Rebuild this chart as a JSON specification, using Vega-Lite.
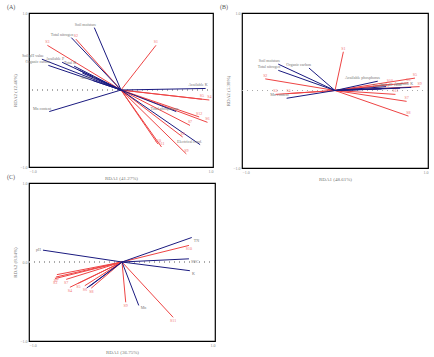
{
  "$schema": "https://vega.github.io/schema/vega-lite/v6.json",
  "padding": {"left": 6, "top": 3, "right": 0, "bottom": 0},
  "config": {
    "font": "Liberation Serif",
    "view": {"stroke": "black", "strokeWidth": 1.2},
    "axis": {"grid": false, "domain": false, "ticks": false, "labelFontSize": 4, "titleFontSize": 5, "labelColor": "#888", "titleColor": "#777", "labelPadding": 2, "titlePadding": 2, "titleFontWeight": "normal"},
    "title": {"fontSize": 6, "fontWeight": "normal", "anchor": "start", "frame": "group", "color": "#555", "offset": 1},
    "text": {"fontSize": 4}
  },
  "datasets": {
    "A": [
      {"x": -0.29, "y": 0.81, "t": "env", "label": "Soil moisture"},
      {"x": -0.54, "y": 0.68, "t": "env", "label": "Total nitrogen"},
      {"x": -0.86, "y": 0.40, "t": "env", "label": "Soil pH value"},
      {"x": -0.79, "y": 0.32, "t": "env", "label": "Organic carbon"},
      {"x": -0.64, "y": 0.36, "t": "env", "label": "Available P"},
      {"x": -0.51, "y": 0.31, "t": "env", "label": "Total K"},
      {"x": -0.46, "y": 0.26, "t": "env", "label": ""},
      {"x": -0.42, "y": 0.22, "t": "env", "label": ""},
      {"x": -0.30, "y": 0.12, "t": "env", "label": "Nitrate N"},
      {"x": -0.78, "y": -0.28, "t": "env", "label": "Mn content"},
      {"x": 0.92, "y": 0.02, "t": "env", "label": "Available K"},
      {"x": 0.60, "y": -0.28, "t": "env", "label": "Total phosphorus"},
      {"x": 0.86, "y": -0.71, "t": "env", "label": "Electrical cond."},
      {"x": 0.38, "y": 0.58, "t": "sp", "label": "S1"},
      {"x": -0.49, "y": 0.66, "t": "sp", "label": "S2"},
      {"x": -0.80, "y": 0.58, "t": "sp", "label": "S3"},
      {"x": 0.96, "y": -0.13, "t": "sp", "label": "S4"},
      {"x": 0.88, "y": -0.12, "t": "sp", "label": "S5"},
      {"x": 0.94, "y": -0.42, "t": "sp", "label": "S6"},
      {"x": 0.75, "y": -0.46, "t": "sp", "label": "S7"},
      {"x": 0.67, "y": -0.61, "t": "sp", "label": "S8"},
      {"x": 0.71, "y": -0.83, "t": "sp", "label": "S9"},
      {"x": 0.40, "y": -0.70, "t": "sp", "label": "S10"},
      {"x": 0.44, "y": -0.74, "t": "sp", "label": "S11"},
      {"x": 0.85, "y": -0.35, "t": "sp", "label": "S12"}
    ],
    "B": [
      {"x": -0.61, "y": 0.34, "t": "env", "label": "Soil moisture"},
      {"x": -0.61, "y": 0.26, "t": "env", "label": "Total nitrogen"},
      {"x": -0.28, "y": 0.29, "t": "env", "label": "Organic carbon"},
      {"x": -0.52, "y": -0.10, "t": "env", "label": "Mn content"},
      {"x": 0.82, "y": 0.04, "t": "env", "label": "Available K"},
      {"x": 0.50, "y": 0.02, "t": "env", "label": "Total P"},
      {"x": 0.46, "y": 0.12, "t": "env", "label": "Available phosphorus"},
      {"x": 0.55, "y": 0.05, "t": "env", "label": ""},
      {"x": 0.70, "y": 0.03, "t": "env", "label": "Soil pH value"},
      {"x": 0.09, "y": 0.50, "t": "sp", "label": "S1"},
      {"x": -0.75, "y": 0.15, "t": "sp", "label": "S2"},
      {"x": -0.64, "y": -0.05, "t": "sp", "label": "S3"},
      {"x": -0.50, "y": -0.04, "t": "sp", "label": "S4"},
      {"x": 0.86, "y": 0.16, "t": "sp", "label": "S5"},
      {"x": 0.79, "y": 0.10, "t": "sp", "label": "S6"},
      {"x": 0.77, "y": -0.14, "t": "sp", "label": "S7"},
      {"x": 0.79, "y": -0.33, "t": "sp", "label": "S8"},
      {"x": 0.91, "y": 0.05, "t": "sp", "label": "S9"},
      {"x": 0.59, "y": 0.08, "t": "sp", "label": "S10"},
      {"x": 0.65, "y": -0.05, "t": "sp", "label": "S11"}
    ],
    "C": [
      {"x": -0.85, "y": 0.15, "t": "env", "label": "pH"},
      {"x": -0.35, "y": -0.31, "t": "env", "label": ""},
      {"x": -0.38, "y": -0.33, "t": "env", "label": ""},
      {"x": 0.75, "y": 0.31, "t": "env", "label": "TN"},
      {"x": 0.72, "y": 0.04, "t": "env", "label": "SOC"},
      {"x": 0.73, "y": -0.11, "t": "env", "label": "K"},
      {"x": 0.18, "y": -0.55, "t": "env", "label": "Mn"},
      {"x": -0.71, "y": -0.19, "t": "sp", "label": "S1"},
      {"x": -0.70, "y": -0.16, "t": "sp", "label": "S2"},
      {"x": -0.72, "y": -0.21, "t": "sp", "label": "S3"},
      {"x": -0.56, "y": -0.32, "t": "sp", "label": "S4"},
      {"x": -0.47, "y": -0.27, "t": "sp", "label": "S5"},
      {"x": -0.40, "y": -0.30, "t": "sp", "label": "S6"},
      {"x": -0.60, "y": -0.22, "t": "sp", "label": "S7"},
      {"x": -0.33, "y": -0.33, "t": "sp", "label": "S8"},
      {"x": 0.04, "y": -0.51, "t": "sp", "label": "S9"},
      {"x": 0.72, "y": 0.21, "t": "sp", "label": "S10"},
      {"x": 0.55, "y": -0.70, "t": "sp", "label": "S11"}
    ]
  },
  "spacing": -9,
  "vconcat": [
    {
      "bounds": "flush",
      "spacing": 29,
      "hconcat": [
        {
          "title": {"text": "(A)", "dx": -22},
          "width": 184, "height": 154,
          "data": {"name": "A"},
          "layer": [
            {"mark": {"type": "rule", "color": "#aaa", "strokeDash": [1, 4], "strokeWidth": 0.8},
             "encoding": {"y": {"datum": 0, "type": "quantitative", "scale": {"domain": [-1, 1], "nice": false}, "axis": {"title": "RDA2 (12.46%)", "values": [-1, 1], "format": ".1f"}}}},
            {"transform": [{"filter": "datum.t == 'sp'"}],
             "mark": {"type": "rule", "color": "#ee4444", "strokeWidth": 1},
             "encoding": {"x": {"field": "x", "type": "quantitative", "scale": {"domain": [-1, 1], "nice": false}, "axis": {"title": "RDA1 (41.27%)", "values": [-1, 1], "format": ".1f"}}, "y": {"field": "y", "type": "quantitative"}, "x2": {"datum": 0}, "y2": {"datum": 0}}},
            {"transform": [{"filter": "datum.t == 'env'"}],
             "mark": {"type": "rule", "color": "#1a1a80", "strokeWidth": 1},
             "encoding": {"x": {"field": "x", "type": "quantitative"}, "y": {"field": "y", "type": "quantitative"}, "x2": {"datum": 0}, "y2": {"datum": 0}}},
            {"transform": [{"filter": "datum.t == 'env'"}],
             "mark": {"type": "text", "align": "right", "dx": 2, "dy": -3, "color": "#777"},
             "encoding": {"x": {"field": "x", "type": "quantitative"}, "y": {"field": "y", "type": "quantitative"}, "text": {"field": "label"}}},
            {"transform": [{"filter": "datum.t == 'sp'"}],
             "mark": {"type": "text", "align": "center", "dy": -3, "color": "#f07070"},
             "encoding": {"x": {"field": "x", "type": "quantitative"}, "y": {"field": "y", "type": "quantitative"}, "text": {"field": "label"}}}
          ]
        },
        {
          "title": {"text": "(B)", "dx": -22},
          "width": 186, "height": 155,
          "data": {"name": "B"},
          "layer": [
            {"mark": {"type": "rule", "color": "#aaa", "strokeDash": [1, 4], "strokeWidth": 0.8},
             "encoding": {"y": {"datum": 0, "type": "quantitative", "scale": {"domain": [-1, 1], "nice": false}, "axis": {"title": "RDA2 (5.38%)", "values": [-1, 1], "format": ".1f"}}}},
            {"transform": [{"filter": "datum.t == 'sp'"}],
             "mark": {"type": "rule", "color": "#ee4444", "strokeWidth": 1},
             "encoding": {"x": {"field": "x", "type": "quantitative", "scale": {"domain": [-1, 1], "nice": false}, "axis": {"title": "RDA1 (48.61%)", "values": [-1, 1], "format": ".1f"}}, "y": {"field": "y", "type": "quantitative"}, "x2": {"datum": 0}, "y2": {"datum": 0}}},
            {"transform": [{"filter": "datum.t == 'env'"}],
             "mark": {"type": "rule", "color": "#1a1a80", "strokeWidth": 1},
             "encoding": {"x": {"field": "x", "type": "quantitative"}, "y": {"field": "y", "type": "quantitative"}, "x2": {"datum": 0}, "y2": {"datum": 0}}},
            {"transform": [{"filter": "datum.t == 'env'"}],
             "mark": {"type": "text", "align": "right", "dx": 2, "dy": -3, "color": "#777"},
             "encoding": {"x": {"field": "x", "type": "quantitative"}, "y": {"field": "y", "type": "quantitative"}, "text": {"field": "label"}}},
            {"transform": [{"filter": "datum.t == 'sp'"}],
             "mark": {"type": "text", "align": "center", "dy": -3, "color": "#f07070"},
             "encoding": {"x": {"field": "x", "type": "quantitative"}, "y": {"field": "y", "type": "quantitative"}, "text": {"field": "label"}}}
          ]
        }
      ]
    },
    {
      "hconcat": [
        {
          "title": {"text": "(C)", "dx": -22},
          "width": 186, "height": 158,
          "data": {"name": "C"},
          "layer": [
            {"mark": {"type": "rule", "color": "#aaa", "strokeDash": [1, 4], "strokeWidth": 0.8},
             "encoding": {"y": {"datum": 0, "type": "quantitative", "scale": {"domain": [-1, 1], "nice": false}, "axis": {"title": "RDA2 (8.94%)", "values": [-1, -0.5, 0, 0.5, 1], "format": ".1f"}}}},
            {"transform": [{"filter": "datum.t == 'sp'"}],
             "mark": {"type": "rule", "color": "#ee4444", "strokeWidth": 1},
             "encoding": {"x": {"field": "x", "type": "quantitative", "scale": {"domain": [-1, 1], "nice": false}, "axis": {"title": "RDA1 (36.75%)", "values": [-1, 1], "format": ".1f"}}, "y": {"field": "y", "type": "quantitative"}, "x2": {"datum": 0}, "y2": {"datum": 0}}},
            {"transform": [{"filter": "datum.t == 'env'"}],
             "mark": {"type": "rule", "color": "#1a1a80", "strokeWidth": 1},
             "encoding": {"x": {"field": "x", "type": "quantitative"}, "y": {"field": "y", "type": "quantitative"}, "x2": {"datum": 0}, "y2": {"datum": 0}}},
            {"transform": [{"filter": "datum.t == 'env' && datum.x < 0"}],
             "mark": {"type": "text", "align": "right", "dx": -2, "color": "#777"},
             "encoding": {"x": {"field": "x", "type": "quantitative"}, "y": {"field": "y", "type": "quantitative"}, "text": {"field": "label"}}},
            {"transform": [{"filter": "datum.t == 'env' && datum.x >= 0"}],
             "mark": {"type": "text", "align": "left", "dx": 2, "dy": 3, "color": "#777"},
             "encoding": {"x": {"field": "x", "type": "quantitative"}, "y": {"field": "y", "type": "quantitative"}, "text": {"field": "label"}}},
            {"transform": [{"filter": "datum.t == 'sp'"}],
             "mark": {"type": "text", "align": "center", "dy": 4, "color": "#f07070"},
             "encoding": {"x": {"field": "x", "type": "quantitative"}, "y": {"field": "y", "type": "quantitative"}, "text": {"field": "label"}}}
          ]
        }
      ]
    }
  ]
}
